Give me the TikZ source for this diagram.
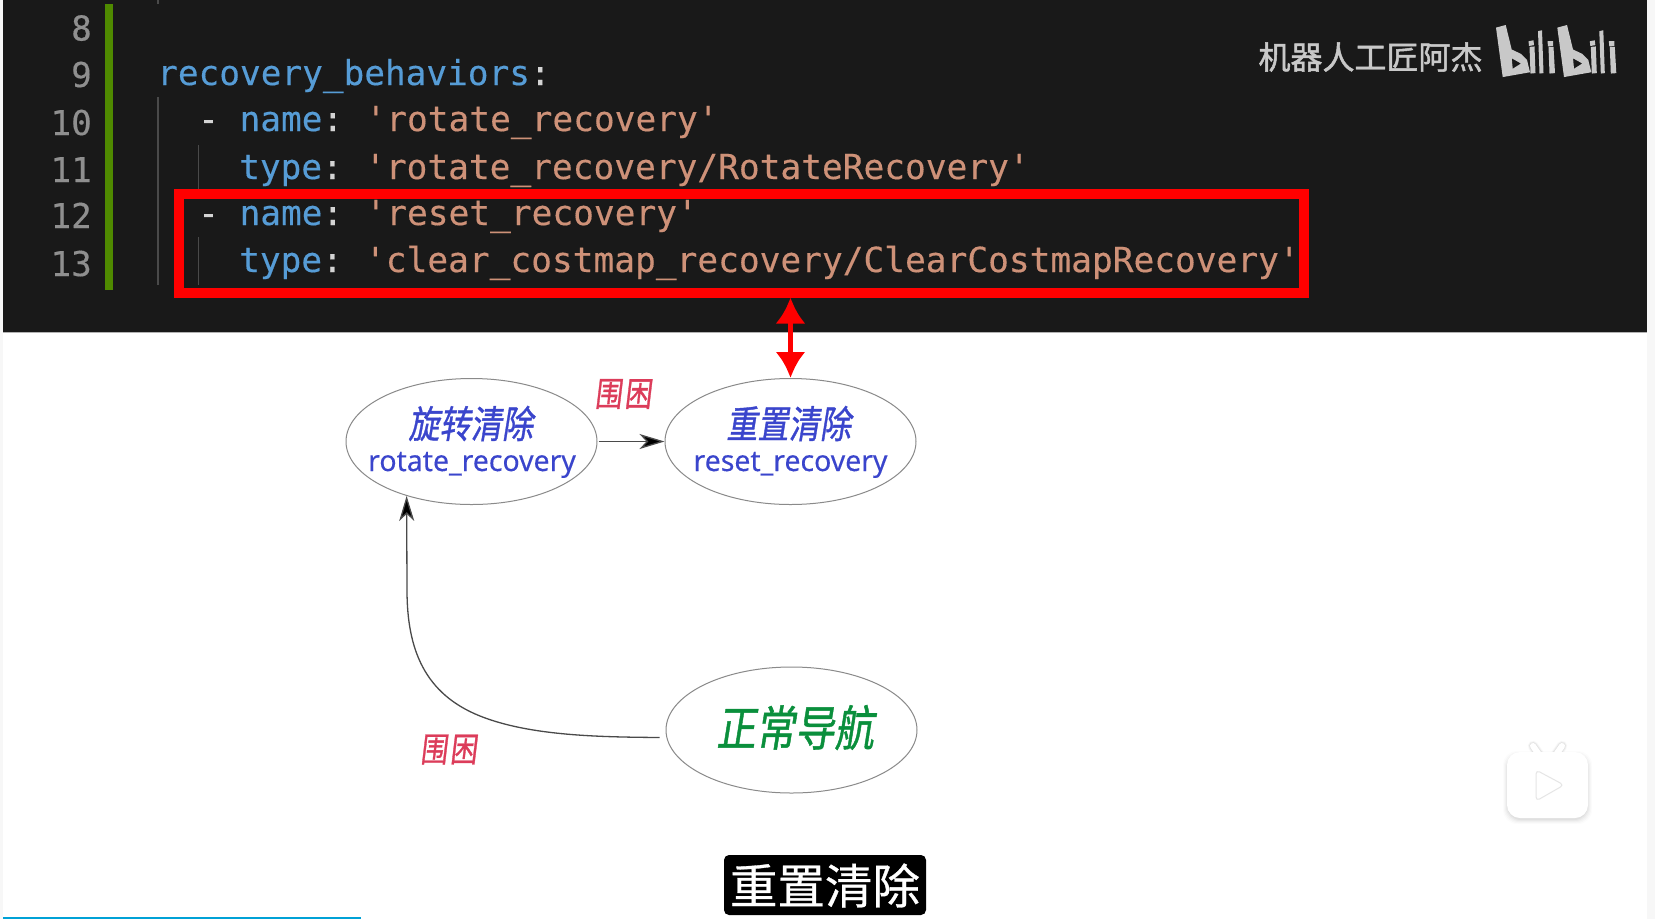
\documentclass[tikz,border=0pt]{standalone}
\usepackage{fontspec}
\setmainfont{Noto Sans}
\newfontfamily\cjk{Noto Sans CJK SC}[FakeBold=1.1]
\newfontfamily\cjkb{Noto Sans CJK SC}[FakeBold=1.5]
\newfontfamily\cjksub{Noto Sans CJK SC}[FakeBold=0.6]
\newfontfamily\codefont{DejaVu Sans Mono}[FakeBold=0.35]
\newfontfamily\latn{Noto Sans}[FakeBold=0.25]
\usetikzlibrary{arrows.meta,calc,shapes.geometric}
\definecolor{editorbg}{HTML}{191919}
\definecolor{gutter}{HTML}{4F8A00}
\definecolor{keyc}{HTML}{569CD6}
\definecolor{strc}{HTML}{CE9178}
\definecolor{punc}{HTML}{D4D4D4}
\definecolor{numc}{HTML}{8F8F8F}
\definecolor{guide}{HTML}{4A4A4A}
\definecolor{markc}{HTML}{C8C8C8}
\definecolor{stateblue}{HTML}{3A45CC}
\definecolor{stategreen}{HTML}{0A8F3C}
\definecolor{eventred}{HTML}{DC3C5A}
\definecolor{edgec}{HTML}{8A8A8A}
\definecolor{linkc}{HTML}{4A4A4A}
\definecolor{barc}{HTML}{00A1D6}
\newcommand{\strpart}[1]{\hspace{-5.3pt}\textcolor{strc}{\fontsize{34.5}{34.5}\selectfont #1}}
\newcommand{\logopart}{%
  \fill[even odd rule] (6,13) -- (15.7,10) -- (21.7,38) -- (31,43) -- (37,50) -- (40,64) -- (12.7,69.5) -- cycle
      (21.7,48) -- (22.7,60) -- (31,54) -- cycle;
  \fill (38.5,28.5) -- (43.5,27.5) -- (44,33) -- (39,34) -- cycle;
  \fill (39.5,35) -- (44.5,34.5) -- (45.5,65) -- (40.5,65.5) -- cycle;
  \fill (48,17) -- (52,16) -- (53.5,65) -- (49.5,65.5) -- cycle;
  \fill (57.5,28.5) -- (63,28.5) -- (63,34) -- (58,34.5) -- cycle;
  \fill (58.5,35) -- (63.5,35) -- (65,65) -- (59.5,65.5) -- cycle;
}
\tikzset{
  x=1pt,y=-1pt,
  lineno/.style={anchor=base east,inner sep=0,text=numc,font=\codefont\fontsize{34.2}{34.2}\selectfont},
  codeline/.style={anchor=base west,inner sep=0,font=\codefont\fontsize{34.4}{34.4}\selectfont},
  guideline/.style={draw=guide,line width=1.4pt},
  state/.style={draw=edgec,line width=1pt,ellipse,minimum width=251pt,minimum height=126pt,inner sep=0},
  cnstate/.style={inner sep=0,text=stateblue,font=\cjk\fontsize{38}{38}\selectfont,xslant=.16,xscale=.82},
  ltstate/.style={inner sep=0,text=stateblue,anchor=base,font=\latn\fontsize{29}{29}\selectfont,xscale=.98},
  event/.style={inner sep=0,text=eventred,font=\cjk\fontsize{34}{34}\selectfont,xslant=.12,xscale=.8},
  link/.style={draw=linkc,line width=1.3pt,-{Stealth[length=25pt,width=15pt,inset=7pt,fill=black]}},
  redlink/.style={draw=red,line width=5pt,{Latex[length=26pt,width=30pt,fill=red]}-{Latex[length=26pt,width=30pt,fill=red]}},
}
\begin{document}
\begin{tikzpicture}
\useasboundingbox (0,0) rectangle (1655,919);
\fill[white] (0,0) rectangle (1655,919);
\fill[black!3] (0,0) rectangle (3,919);
\fill[black!3] (1647,0) rectangle (1655,919);
\fill[editorbg] (3,0) rectangle (1647,332);
\draw[black!30,line width=1pt] (3,332.5) -- (1647,332.5);
% gutter and guides
\fill[gutter] (105,4) rectangle (112.5,290);
\draw[guideline] (158,0) -- (158,4);
\draw[guideline] (158,97) -- (158,285);
\draw[guideline] (198.5,145) -- (198.5,189);
\draw[guideline] (198.5,237) -- (198.5,285);
% line numbers
\node[lineno] (n8) at (92,40.5) {8};
\node[lineno] (n9) at (92,87) {9};
\node[lineno] (n10) at (92,135) {10};
\node[lineno] (n11) at (92,182) {11};
\node[lineno] (n12) at (92,228) {12};
\node[lineno] (n13) at (92,276) {13};
% code
\node[codeline,text=keyc] (c9) at (157,85) {recovery\_behaviors\textcolor{punc}{:}};
\node[codeline] (c10) at (198,131) {\textcolor{punc}{-} \textcolor{keyc}{name}\textcolor{punc}{:} \strpart{'rotate\_recovery'}};
\node[codeline] (c11) at (239,179) {\textcolor{keyc}{type}\textcolor{punc}{:} \strpart{'rotate\_recovery/RotateRecovery'}};
\node[codeline] (c12) at (198,225) {\textcolor{punc}{-} \textcolor{keyc}{name}\textcolor{punc}{:} \strpart{'reset\_recovery'}};
\node[codeline] (c13) at (239,272) {\textcolor{keyc}{type}\textcolor{punc}{:} \strpart{'clear\_costmap\_recovery/ClearCostmapRecovery'}};
% highlight
\node[draw=red,line width=10pt,minimum width=1125pt,minimum height=99pt,inner sep=0] (redbox) at (741.5,243) {};
% watermark
\node[inner sep=0,text=markc,font=\cjkb\fontsize{32}{32}\selectfont] (mark) at (1370.5,57) {机器人工匠阿杰};
\begin{scope}[shift={(1490,16.25)},yscale=.875,fill=markc]
  \logopart
  \begin{scope}[shift={(61.3,0)}]
    \logopart
  \end{scope}
\end{scope}
% states
\node[state] (e1) at (471.5,441.5) {};
\node[state] (e2) at (790.5,441.5) {};
\node[state] (e3) at (791.5,730) {};
\node[cnstate] (t1) at (473,423.5) {旋转清除};
\node[ltstate] (l1) at (472,471) {rotate\_recovery};
\node[cnstate] (t2) at (791,423.5) {重置清除};
\node[ltstate] (l2) at (790.5,471) {reset\_recovery};
\node[cnstate,text=stategreen,font=\cjk\fontsize{48}{48}\selectfont] (t3) at (798,727.5) {正常导航};
\node[event] (ev1) at (624.5,394) {围\hspace{3pt}困};
\node[event] (ev2) at (450,749.5) {围\hspace{3pt}困};
% connectors
\draw[link] ([xshift=1pt]e1.east) -- (e2.west);
\draw[link] ([shift={(-6,7.5)}]e3.west) .. controls (600,737) and (530,736) .. (480,716)
   .. controls (425,694) and (407,650) .. (407,590) -- (e1.220);
\draw[redlink] (redbox.south -| e2.north) -- (e2.north);
% player icon
\foreach \o/\g in {5/.012,4/.018,3/.025,2/.03,1/.035}{
  \fill[black,opacity=\g,rounded corners=14pt] (1507-\o+1,752-\o+4) rectangle (1588+\o-1,818+\o+1);
  \draw[black,opacity=\g,line width={6pt+\o pt},line cap=round] (1533,746) -- (1540,756);
  \draw[black,opacity=\g,line width={6pt+\o pt},line cap=round] (1562,746) -- (1555,756);
}
\draw[white,line width=6pt,line cap=round] (1533,746) -- (1540,756);
\draw[white,line width=6pt,line cap=round] (1562,746) -- (1555,756);
\fill[white,rounded corners=13pt] (1507,752) rectangle (1588,818);
\draw[black!10,fill=white,line width=1pt,line join=round,rounded corners=4pt] (1536,770) -- (1564,785) -- (1536,801) -- cycle;
% subtitle
\node[fill=black,rounded corners=5pt,minimum width=202pt,minimum height=60pt,inner sep=0] (sub) at (825,885) {};
\node[inner sep=0,text=white,font=\cjksub\fontsize{47.5}{47.5}\selectfont] (subt) at (825,885.5) {重置清除};
% progress
\fill[barc] (3,916.5) rectangle (361,919);
\end{tikzpicture}
\end{document}
